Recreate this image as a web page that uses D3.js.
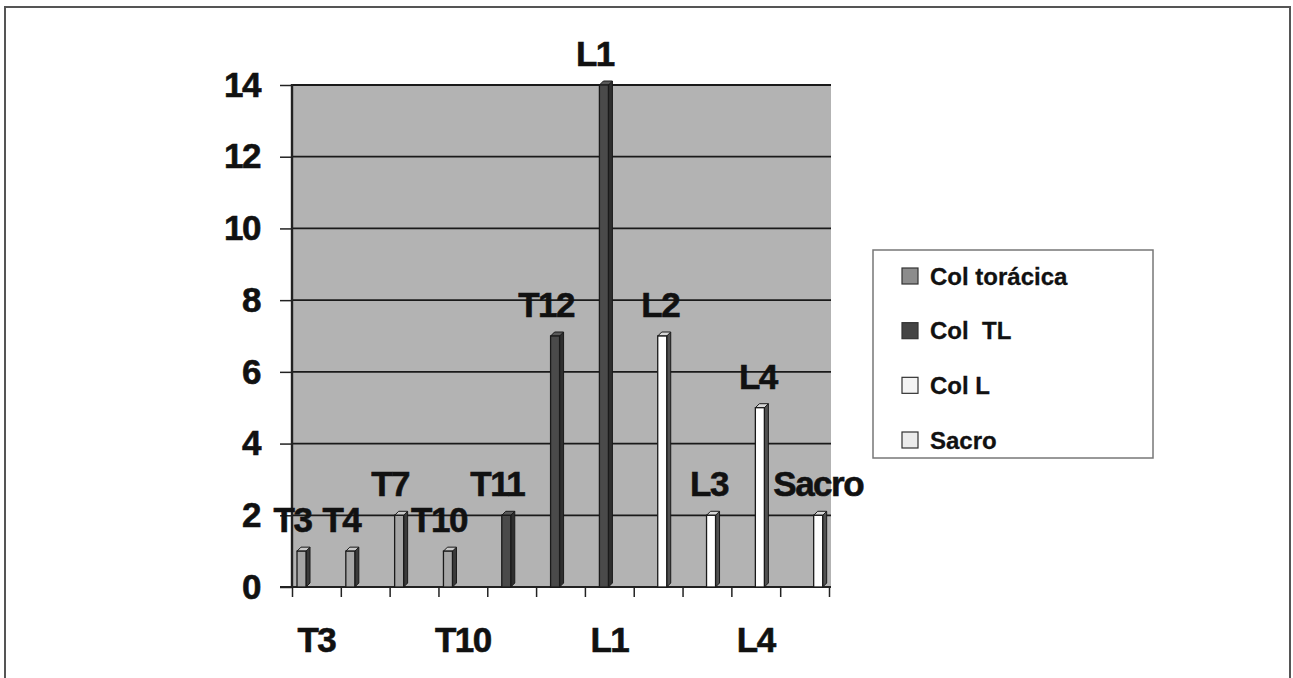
<!DOCTYPE html>
<html>
<head>
<meta charset="utf-8">
<script src="https://cdn.jsdelivr.net/npm/d3@7"></script>
<style>
  html, body { margin: 0; padding: 0; background: #fff; }
  svg { display: block; font-family: "Liberation Sans", Arial, sans-serif; font-weight: bold; }
  text { white-space: pre; }
</style>
</head>
<body>
<svg id="chart" width="1293" height="678"></svg>
<script>
// ---- data ----
const categories = ["T3", "T4", "T7", "T10", "T11", "T12", "L1", "L2", "L3", "L4", "Sacro"];
const values     = [1, 1, 2, 1, 2, 7, 14, 7, 2, 5, 2];
const seriesOf   = [0, 0, 0, 0, 1, 1, 1, 2, 2, 2, 3];
const seriesNames = ["Col torácica", "Col  TL", "Col L", "Sacro"];
const yTicks = [0, 2, 4, 6, 8, 10, 12, 14];
const xTickLabels = ["T3", "T10", "L1", "L4"];

// ---- styles ----
const faceColors = ["#a6a6a6", "#4a4a4a", "#ffffff", "#ffffff"];
const sideColors = ["#3a3a3a", "#2e2e2e", "#505050", "#505050"];
const topColors  = ["#c8c8c8", "#5a5a5a", "#d8d8d8", "#d8d8d8"];
const legendColors = ["#8c8c8c", "#444444", "#f4f4f4", "#ececec"];
const labelShift = [11, 11, 4, 2];

(function () {
const svg = d3.select("#chart");

function bigText(sel) {
  return sel.attr("font-size", 35).attr("font-weight", "bold")
    .attr("font-family", "'Liberation Sans', Arial, sans-serif")
    .attr("fill", "#111").attr("stroke", "#111").attr("stroke-width", 0.6)
    .attr("letter-spacing", -1.5);
}

// outer frame
svg.append("rect").attr("x", 5).attr("y", 7).attr("width", 1285).attr("height", 690)
  .attr("fill", "none").attr("stroke", "#555").attr("stroke-width", 2);

const pLeft = 292, pRight = 829, pBottom = 587, pTop = 85;
const x = d3.scaleBand().domain(categories).range([pLeft, pRight]).padding(0);
const xs = d3.scaleBand().domain([0, 1, 2, 3]).range([5, 43]).padding(0);
const xIdx = d3.scaleLinear().domain([0, categories.length]).range([pLeft, pRight]);
const y = d3.scaleLinear().domain([0, 14]).range([pBottom, pTop]);

// plot back wall
svg.append("rect").attr("x", pLeft).attr("y", y(14) - 1).attr("width", pRight - pLeft + 2)
  .attr("height", pBottom - y(14) + 1).attr("fill", "#b3b3b3");

// gridlines
svg.append("g").selectAll("line").data(yTicks.filter(d => d > 0)).join("line")
  .attr("x1", pLeft).attr("x2", pRight + 2)
  .attr("y1", d => y(d)).attr("y2", d => y(d))
  .attr("stroke", "#1a1a1a").attr("stroke-width", 1.8);

// left wall edge
svg.append("line").attr("x1", pLeft).attr("x2", pLeft).attr("y1", y(14) - 1).attr("y2", pBottom)
  .attr("stroke", "#222").attr("stroke-width", 2.4);

// y axis
const yAxis = svg.append("g").attr("transform", `translate(${pLeft},0)`)
  .call(d3.axisLeft(y).tickValues(yTicks).tickSize(12).tickPadding(20).tickFormat(d3.format("d")));
yAxis.select(".domain").remove();
yAxis.selectAll(".tick line").attr("stroke", "#222").attr("stroke-width", 1.5);
bigText(yAxis.selectAll(".tick text"));

// x axis ticks at category boundaries
const xAxis = svg.append("g").attr("transform", `translate(0,${pBottom})`)
  .call(d3.axisBottom(xIdx).tickValues(d3.range(categories.length + 1)).tickSize(10).tickFormat(""));
xAxis.select(".domain").remove();
xAxis.selectAll(".tick line").attr("stroke", "#222").attr("stroke-width", 1.5);
svg.append("line").attr("x1", pLeft - 12).attr("x2", pRight + 2).attr("y1", pBottom).attr("y2", pBottom)
  .attr("stroke", "#222").attr("stroke-width", 2);

// x labels
bigText(svg.append("g").selectAll("text").data(xTickLabels).join("text")
  .attr("x", d => x(d) + x.bandwidth() / 2).attr("y", 652)
  .attr("text-anchor", "middle").text(d => d));

// bars (pseudo 3D)
const dd = 4;
const faceW = xs.bandwidth() - 0.5;
const bars = categories.map((c, i) => ({ c, v: values[i], s: seriesOf[i] }));
const g = svg.append("g");
bars.forEach(b => {
  const x0 = x(b.c) + xs(b.s);
  const yt = y(b.v), yb = y(0);
  g.append("polygon")
    .attr("points", [[x0 + faceW, yt], [x0 + faceW + dd, yt - dd], [x0 + faceW + dd, yb - dd], [x0 + faceW, yb]].map(p => p.join(",")).join(" "))
    .attr("fill", sideColors[b.s]).attr("stroke", "#1a1a1a").attr("stroke-width", 1);
  g.append("polygon")
    .attr("points", [[x0, yt], [x0 + dd, yt - dd], [x0 + faceW + dd, yt - dd], [x0 + faceW, yt]].map(p => p.join(",")).join(" "))
    .attr("fill", topColors[b.s]).attr("stroke", "#1a1a1a").attr("stroke-width", 1);
  g.append("rect").attr("x", x0).attr("y", yt).attr("width", faceW).attr("height", yb - yt)
    .attr("fill", faceColors[b.s]).attr("stroke", "#1a1a1a").attr("stroke-width", 1.3);
});

// data labels
bigText(svg.append("g").selectAll("text").data(bars).join("text")
  .attr("x", d => x(d.c) + xs(d.s) + faceW / 2 + 2 - labelShift[d.s])
  .attr("y", d => y(d.v) - 19)
  .attr("text-anchor", "middle").text(d => d.c));

// legend
const lg = svg.append("g");
lg.append("rect").attr("x", 873).attr("y", 250).attr("width", 280).attr("height", 208)
  .attr("fill", "#fff").attr("stroke", "#777").attr("stroke-width", 1.5);
const ly = d3.scalePoint().domain(seriesNames).range([276, 440]);
seriesNames.forEach((n, i) => {
  lg.append("rect").attr("x", 902).attr("y", ly(n) - 8).attr("width", 16).attr("height", 16)
    .attr("fill", legendColors[i]).attr("stroke", "#333").attr("stroke-width", 1.2);
  lg.append("text").attr("x", 930).attr("y", ly(n) + 8.5).attr("font-size", 24)
    .attr("fill", "#111").attr("stroke", "#111").attr("stroke-width", 0.3).text(n);
});
})();
</script>
</body>
</html>
